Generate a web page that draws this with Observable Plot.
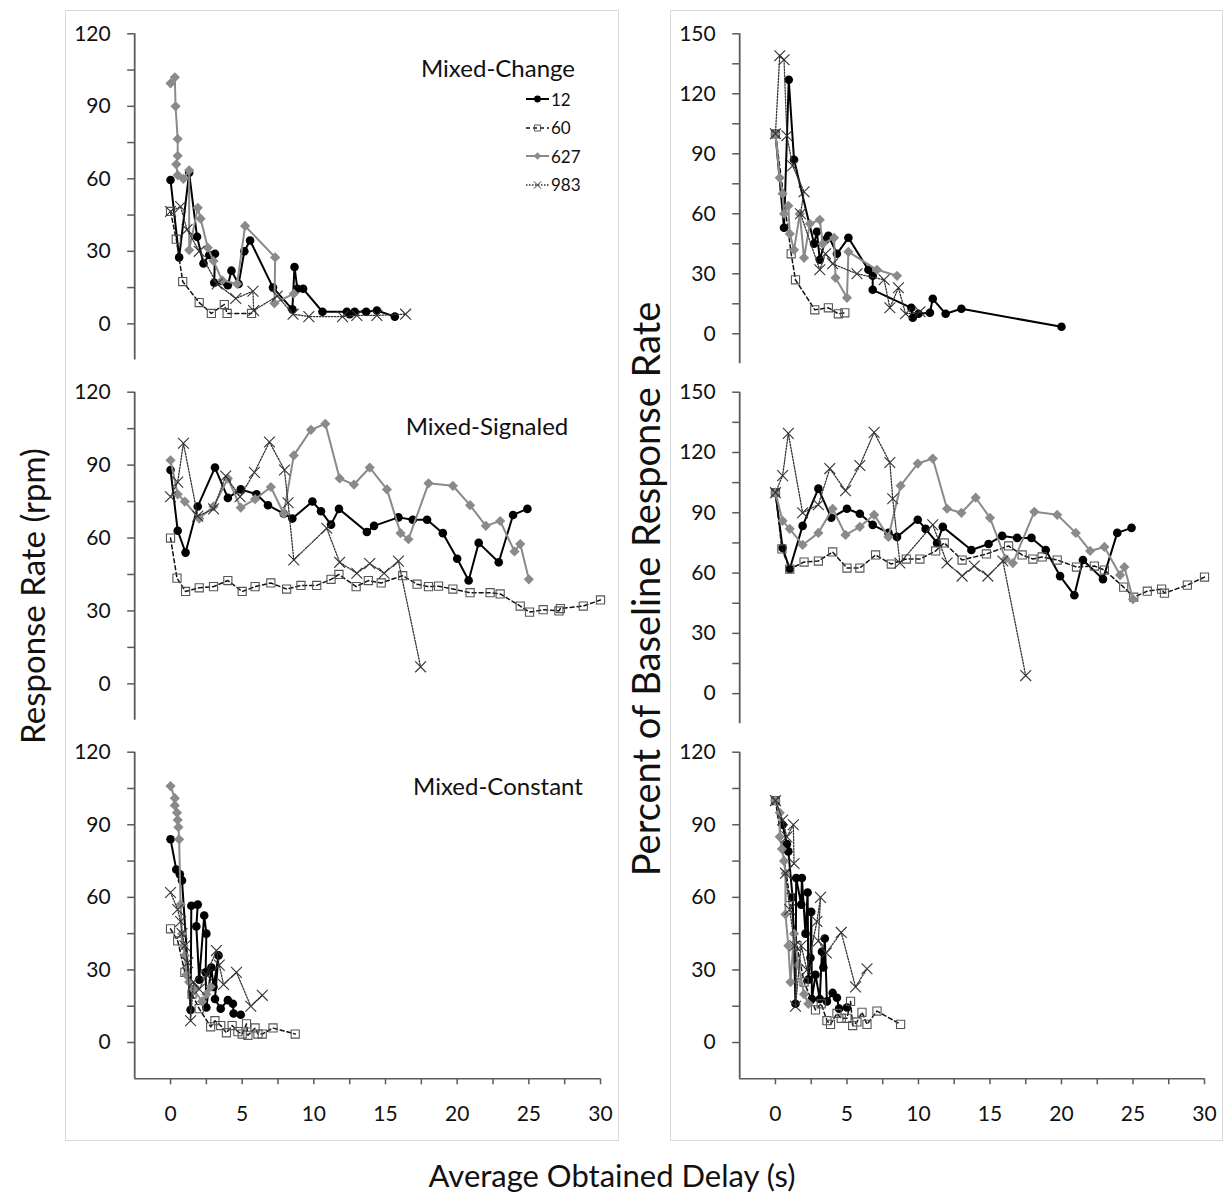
<!DOCTYPE html>
<html><head><meta charset="utf-8">
<script src="https://cdn.jsdelivr.net/npm/d3@7"></script>
<script src="https://cdn.jsdelivr.net/npm/@observablehq/plot@0.6"></script>
<style>
body{margin:0;background:#fff;}
#root{position:relative;width:1225px;height:1204px;font-family:Lato,"Open Sans",sans-serif;overflow:hidden;background:#fff;}
.box{position:absolute;border:1px solid #d9d9d9;box-sizing:border-box;}
.txt{position:absolute;white-space:nowrap;color:#111;transform:translate(-50%,-50%);}
.rot{position:absolute;white-space:nowrap;color:#111;transform:translate(-50%,-50%) rotate(-90deg);}
.leg{position:absolute;display:flex;align-items:center;font-size:17px;color:#111;}
svg.panel{position:absolute;overflow:visible;}
</style></head><body><div id="root"></div>
<script>
// ---------- DATA ----------
const seriesNames = ["12", "60", "627", "983"];
const panelTitles = ["Mixed-Change", "Mixed-Signaled", "Mixed-Constant"];
const yLabelLeft = "Response Rate (rpm)";
const yLabelRight = "Percent of Baseline Response Rate";
const xLabel = "Average Obtained Delay (s)";
const xTicksLabeled = [0, 5, 10, 15, 20, 25, 30];
const yTicksRate = [0, 30, 60, 90, 120];
const yTicksPct = [0, 30, 60, 90, 120, 150];

// Mixed-Change, response rate
const chgRate12 = [[0,59.5],[0.6,27.5],[1.3,62.5],[1.85,36],[2.3,25],[2.7,28.5],[3.1,29],[3.05,17],[4.0,16],[4.25,22],[4.75,16.5],[5.15,30],[5.55,34.5],[7.15,15],[8.5,6],[8.65,23.5],[8.85,14.5],[9.25,14.5],[10.6,5],[12.3,5],[12.5,4],[12.85,5],[13.65,5],[14.4,5.5],[15.65,3]];
const chgRate60 = [[0,46.5],[0.4,35],[0.85,17.5],[2.0,8.8],[2.85,4.3],[3.75,8],[3.95,4.3],[5.65,4.3]];
const chgRate627 = [[0,99.5],[0.3,102],[0.35,90],[0.5,76.5],[0.5,69.5],[0.4,66],[0.5,61.5],[0.9,60],[1.3,63.5],[1.3,30.5],[1.9,48],[2.1,43.5],[2.6,31.5],[3.0,26],[3.6,18],[4.65,16.5],[5.2,40.5],[7.3,27.5],[7.25,8.5],[8.6,12.5]];
const chgRate983 = [[0,46.5],[0.7,48.5],[1.15,39],[2.0,30],[3.25,16.5],[4.55,10.5],[5.75,13.5],[5.8,5.5],[7.45,11.5],[8.55,4],[9.65,3],[12.0,3],[13.0,3.5],[14.4,3.5],[16.4,4]];
// Mixed-Change, percent of baseline
const chgPct12 = [[0,100],[0.6,53],[0.93,127],[1.3,87],[2.7,45],[2.9,51],[3.1,37],[3.5,47],[3.7,49],[4.3,40],[5.1,48],[6.5,32],[6.8,29],[6.8,22],[9.5,13],[9.6,8],[10.0,10],[10.8,10.5],[11.0,17.5],[11.9,10],[13.0,12.5],[20.0,3.5]];
const chgPct60 = [[0,100],[1.1,40],[1.4,27],[2.75,12],[3.7,13],[4.4,10],[4.85,10.5]];
const chgPct627 = [[0,100],[0.3,78],[0.5,70],[0.6,60],[0.9,64],[1.0,50],[1.3,42],[1.7,60],[2.0,38],[2.4,55],[3.1,57],[3.3,45],[4.1,48],[4.2,28],[5.0,18],[5.1,41],[7.1,32],[8.5,29]];
const chgPct983 = [[0,100],[0.3,139],[0.6,137],[0.8,99],[1.2,84],[2.0,71],[1.75,60],[3.1,32],[3.5,40],[4.0,35],[5.7,30],[7.6,27],[8.0,13],[8.6,23],[9.1,10],[10.1,11]];
// Mixed-Signaled, response rate
const sigRate12 = [[0,88],[0.5,63],[1.05,54],[1.9,73],[3.1,89],[4.0,76.5],[4.9,80],[6.0,78],[6.8,73.5],[7.9,70],[8.5,68],[9.9,75],[10.5,71],[11.2,65.5],[11.75,72],[13.7,62.5],[14.2,65],[15.9,68.5],[16.9,67.5],[17.9,67.5],[19.0,62],[20.0,51.5],[20.8,42.5],[21.5,58],[22.9,50],[23.9,69.5],[24.9,72]];
const sigRate60 = [[0,60],[0.45,43.5],[1.05,38],[2.0,39.5],[3.0,40],[4.0,42.5],[5.0,38],[5.9,40],[7.0,41.5],[8.1,39],[9.1,40.5],[10.2,40.5],[11.2,43],[11.75,45],[12.95,40],[13.8,42.5],[14.7,41.5],[16.2,44.5],[17.2,41],[18.0,40],[18.7,40.2],[19.7,39],[20.9,37.5],[22.3,37.5],[23.0,37],[24.4,32],[25.05,29.5],[26.0,30.5],[27.1,30],[27.2,31],[28.8,32],[30.0,34.5]];
const sigRate627 = [[0,92],[0.5,78],[1.0,75],[2.0,68],[3.0,73],[4.0,84.5],[4.9,72.5],[5.9,76],[7.0,81],[7.9,70],[8.6,94],[9.8,104.5],[10.8,107],[11.8,84.5],[12.8,82],[13.9,89],[15.1,80],[16.05,62],[16.6,59.5],[18.0,82.5],[19.7,81.5],[20.9,73.5],[22.0,65],[23.0,67],[24.0,54.5],[24.4,57.5],[25.0,43]];
const sigRate983 = [[0,77],[0.5,83],[0.9,99],[1.9,69],[3.0,72],[3.85,85.5],[4.85,77],[5.85,87],[6.9,99.5],[7.95,88],[8.2,74.5],[8.6,51],[10.9,64],[11.8,50],[13.0,45.5],[13.9,49.5],[14.9,45.5],[15.9,50.5],[17.45,7]];
// Mixed-Signaled, percent of baseline
const sigPct12 = [[0,100],[0.5,72.5],[1.0,62],[1.9,83.5],[3.0,102],[3.9,87.5],[5.0,92],[5.9,89.5],[6.8,84],[7.9,80],[8.5,78],[9.95,86.5],[10.5,82],[11.3,75],[11.7,83],[13.7,71.5],[14.9,74.5],[15.85,78.5],[16.9,77.5],[17.9,77.5],[18.9,71.5],[19.9,58.5],[20.9,49],[21.5,66.5],[22.9,57],[23.9,80],[24.9,82.5]];
const sigPct60 = [[0,100],[0.45,72],[1.0,62],[2.0,65.5],[3.0,66],[4.0,70.5],[5.0,62.5],[5.9,62.5],[7.0,69],[8.1,64.5],[9.15,67],[10.1,67],[11.2,71],[11.8,75],[13.05,66.5],[14.75,69.5],[16.3,73.5],[17.25,69],[18.0,67],[18.65,68],[19.7,66.5],[21.05,63],[22.3,63.5],[23.0,61.5],[24.35,53],[25.05,48],[26.0,51],[27.0,52],[27.2,50],[28.8,54],[30.0,58]];
const sigPct627 = [[0,100],[0.5,86],[1.0,82],[1.9,74],[3.0,80],[4.0,92],[4.9,79],[5.9,83],[6.9,89],[7.9,78],[8.75,103.5],[9.95,114.5],[11.0,117],[12.0,92],[13.0,90],[14.0,97.5],[15.0,87.5],[16.1,67],[16.6,65],[18.1,90.5],[19.7,89],[21.0,80],[22.0,71],[23.0,73],[24.1,59],[24.4,63],[25.0,47]];
const sigPct983 = [[0,100],[0.5,108.5],[0.9,129.5],[1.9,90],[3.0,94],[3.8,112],[4.9,101],[5.9,113.5],[6.9,130],[8.0,115],[8.2,97],[8.7,65],[11.0,84],[12.0,65],[13.05,58.5],[13.9,63.5],[14.85,58.5],[15.9,66],[17.5,9]];
// Mixed-Constant, response rate
const conRate12 = [[0,84],[0.4,71.5],[0.65,69.5],[0.8,67],[1.4,13.5],[1.45,56.5],[1.9,57],[1.8,48],[2.0,26],[2.35,52.5],[2.5,45],[2.45,29],[2.5,14.5],[2.85,31],[3.0,23],[3.35,36],[3.1,18],[3.5,14],[4.0,17.5],[4.35,16],[4.4,12],[4.9,11.5]];
const conRate60 = [[0,47],[0.5,42],[1.0,29],[1.5,20],[2.0,14],[2.8,6.5],[3.1,9],[3.5,7],[3.9,4],[4.3,7],[4.7,4.5],[5.0,3.5],[5.3,7.7],[5.4,3],[5.9,6],[6.1,3.5],[6.4,3.5],[7.15,6],[8.7,3.5]];
const conRate627 = [[0,106],[0.3,101],[0.3,98],[0.45,95],[0.5,92],[0.55,89],[0.6,84],[0.7,57],[0.8,45],[0.9,40],[1.0,36],[1.1,28],[1.3,25],[1.6,22],[2.2,17],[2.5,20],[2.8,23]];
const conRate983 = [[0,62],[0.5,55],[0.7,50],[0.8,45],[1.0,40],[1.2,33],[1.4,9],[1.6,25],[2.0,22],[2.5,28],[3.2,38],[3.4,32],[3.7,24],[4.6,29],[5.6,15],[6.4,19.5]];
// Mixed-Constant, percent of baseline
const conPct12 = [[0,100],[0.5,90],[0.8,82],[0.9,79],[1.2,60],[1.4,16],[1.45,68],[1.8,57],[1.85,68],[2.1,45],[2.25,62],[2.3,26],[2.45,35],[2.5,54],[2.55,18],[2.8,28],[3.1,18],[3.25,37.5],[3.35,31],[3.45,43],[3.6,17],[4.0,20.5],[4.3,18.5],[4.45,14],[5.0,14.5]];
const conPct60 = [[0,100],[1.0,60],[1.5,40],[2.0,25],[2.8,13.5],[3.2,16],[3.6,9],[3.85,7.5],[4.3,12],[4.6,10],[5.0,10],[5.25,17],[5.4,7],[5.7,8.5],[6.05,12.5],[6.4,7.5],[7.1,13],[8.75,7.5]];
const conPct627 = [[0,100],[0.3,95],[0.3,85],[0.45,80],[0.6,75],[0.7,70],[0.7,53],[0.9,40],[1.05,25],[1.3,45],[1.6,32],[2.0,20],[2.3,16]];
const conPct983 = [[0,100],[0.5,92],[0.8,85],[1.25,90],[1.3,74],[0.7,70],[1.0,55],[1.35,40],[1.4,15],[1.8,40],[2.2,30],[2.9,50],[3.15,60],[3.0,42],[3.55,37],[4.6,45.5],[5.6,23],[6.4,30.5]];

// ---------- STYLES ----------
const styles = {
  "12":  {stroke: "#000", strokeWidth: 2, dash: null, symbol: "circle", fill: "#000", mstroke: "none", r: 4.3},
  "60":  {stroke: "#111", strokeWidth: 1.5, dash: "4,3", symbol: "square", fill: "none", mstroke: "#555", r: 4.6},
  "627": {stroke: "#8a8a8a", strokeWidth: 2, dash: null, symbol: "diamond2", fill: "#8a8a8a", mstroke: "none", r: 4.6},
  "983": {stroke: "#333", strokeWidth: 1.3, dash: "1.5,1.5", symbol: "times", fill: "none", mstroke: "#333", r: 5}
};

const root = document.getElementById("root");
function el(tag, cls, txt, css) { const e = document.createElement(tag); if (cls) e.className = cls; if (txt != null) e.textContent = txt; Object.assign(e.style, css || {}); root.appendChild(e); return e; }

// column boxes
el("div", "box", null, {left: "65px", top: "10px", width: "554px", height: "1131px"});
el("div", "box", null, {left: "670px", top: "10px", width: "553px", height: "1131px"});

function toRows(arr, s) { return arr.map(([x, y]) => ({x, y, s})); }

function makePanel(cfg) {
  const {left, top, width, height, xPxMin, xPxMax, yPxTop, yPxBot, yDomain, yMajor, sets, xAxis} = cfg;
  const yAll = d3.range(0, yDomain[1] + 0.01, 15);
  const marks = [
    Plot.ruleX([-2.5], {y1: yDomain[0], y2: yDomain[1], stroke: "#5a5a5a", strokeWidth: 1.8}),
    Plot.axisY({ticks: yAll, tickSize: 7, tickPadding: 17, label: null, stroke: "#5a5a5a", strokeWidth: 1.5, fill: "#111",
      tickFormat: d => yMajor.includes(d) ? String(d) : ""})
  ];
  if (xAxis) {
    marks.push(Plot.ruleY([yDomain[0]], {x1: -2.5, x2: 30, stroke: "#5a5a5a", strokeWidth: 1.5}));
    marks.push(Plot.axisX({ticks: d3.range(0, 30.01, 2.5), tickSize: 6, tickPadding: 21, label: null, stroke: "#5a5a5a", strokeWidth: 1.5, fill: "#111",
      tickFormat: d => xTicksLabeled.includes(d) ? String(d) : ""}));
  }
  seriesNames.forEach((s, i) => {
    const st = styles[s];
    const rows = toRows(sets[i], s);
    marks.push(Plot.line(rows, {x: "x", y: "y", stroke: st.stroke, strokeWidth: st.strokeWidth, strokeDasharray: st.dash, curve: "linear"}));
    marks.push(Plot.dot(rows, {x: "x", y: "y", symbol: () => st.symbol, r: st.r, fill: st.fill, stroke: st.mstroke, strokeWidth: 1.1}));
  });
  const svg = Plot.plot({
    width, height,
    marginLeft: xPxMin - left, marginRight: left + width - xPxMax,
    marginTop: yPxTop - top, marginBottom: top + height - yPxBot,
    x: {domain: [-2.5, 30], axis: xAxis ? undefined : null},
    y: {domain: yDomain},
    symbol: {type: "identity"},
    style: {fontFamily: "Lato, 'Open Sans', sans-serif", fontSize: "21px", background: "transparent", overflow: "visible"},
    marks
  });
  svg.classList.add("panel");
  svg.style.left = left + "px";
  svg.style.top = top + "px";
  root.appendChild(svg);
}

const L = {left: 66, width: 554, xPxMin: 134.2, xPxMax: 600};
const R = {left: 671, width: 551, xPxMin: 739.2, xPxMax: 1204};
makePanel({...L, top: 14, height: 354, yPxTop: 33.3, yPxBot: 359.6, yDomain: [-15, 120], yMajor: yTicksRate, sets: [chgRate12, chgRate60, chgRate627, chgRate983]});
makePanel({...R, top: 14, height: 354, yPxTop: 33.3, yPxBot: 363.3, yDomain: [-15, 150], yMajor: yTicksPct, sets: [chgPct12, chgPct60, chgPct627, chgPct983]});
makePanel({...L, top: 374, height: 354, yPxTop: 391.7, yPxBot: 719.8, yDomain: [-15, 120], yMajor: yTicksRate, sets: [sigRate12, sigRate60, sigRate627, sigRate983]});
makePanel({...R, top: 374, height: 354, yPxTop: 391.7, yPxBot: 723.3, yDomain: [-15, 150], yMajor: yTicksPct, sets: [sigPct12, sigPct60, sigPct627, sigPct983]});
makePanel({...L, top: 734, height: 396, yPxTop: 751.7, yPxBot: 1078.3, yDomain: [-15, 120], yMajor: yTicksRate, xAxis: true, sets: [conRate12, conRate60, conRate627, conRate983]});
makePanel({...R, top: 734, height: 396, yPxTop: 751.7, yPxBot: 1078.3, yDomain: [-15, 120], yMajor: yTicksRate, xAxis: true, sets: [conPct12, conPct60, conPct627, conPct983]});

// panel titles
el("div", "txt", panelTitles[0], {left: "498px", top: "67px", fontSize: "24px"});
el("div", "txt", panelTitles[1], {left: "487px", top: "425px", fontSize: "24px"});
el("div", "txt", panelTitles[2], {left: "498px", top: "785px", fontSize: "24px"});

// legend
seriesNames.forEach((s, i) => {
  const st = styles[s];
  const row = el("div", "leg", null, {left: "526px", top: (99 + i * 28.5 - 11) + "px", height: "22px"});
  const sw = d3.create("svg").attr("width", 23).attr("height", 14).style("margin-right", "2px");
  sw.append("line").attr("x1", 0).attr("x2", 23).attr("y1", 7).attr("y2", 7)
    .attr("stroke", st.stroke).attr("stroke-width", st.strokeWidth).attr("stroke-dasharray", st.dash);
  const sym = {circle: d3.symbolCircle, square: d3.symbolSquare, diamond2: d3.symbolDiamond2, times: d3.symbolTimes}[st.symbol];
  sw.append("path").attr("transform", "translate(11.5,7)").attr("d", d3.symbol(sym, Math.PI * 3.4 * 3.4)())
    .attr("fill", st.fill).attr("stroke", st.mstroke === "none" ? null : st.mstroke).attr("stroke-width", 1);
  row.appendChild(sw.node());
  const t = document.createElement("span"); t.textContent = s; row.appendChild(t);
});

// axis titles
el("div", "rot", yLabelLeft, {left: "32px", top: "596px", fontSize: "33px"});
el("div", "rot", yLabelRight, {left: "645px", top: "589px", fontSize: "38px"});
el("div", "txt", xLabel, {left: "612px", top: "1175px", fontSize: "31px"});
</script></body></html>
